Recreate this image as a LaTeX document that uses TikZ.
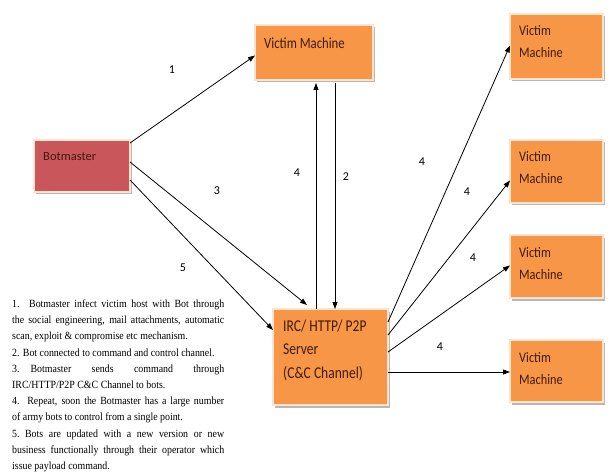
\documentclass[tikz,border=0pt]{standalone}
\usepackage{fontspec}
\setmainfont{Liberation Serif}
\newfontfamily\notefont[FakeStretch=0.9]{Liberation Serif}
\newfontfamily\calfont{Carlito}
\newfontfamily\calnarrow[FakeStretch=0.82]{Carlito}
\newfontfamily\calmid[FakeStretch=0.85]{Carlito}
\usetikzlibrary{arrows.meta,calc,shadows}
\definecolor{boxorange}{HTML}{F79646}
\definecolor{boxred}{HTML}{C9565A}
\definecolor{boxedge}{HTML}{FCE4D0}
\definecolor{boxtext}{HTML}{3F1B0A}
\tikzset{
  mbox/.style={rectangle, draw=boxedge, line width=1.2pt, fill=boxorange, anchor=north west,
    inner sep=0pt, outer sep=0pt,
    drop shadow={shadow xshift=1.5pt, shadow yshift=-2.5pt, fill=black!35, opacity=0.8}},
  rbox/.style={mbox, fill=boxred},
  lbl/.style={text=boxtext, anchor=base west, inner sep=0pt, align=left},
  arr/.style={-{Triangle[length=7pt,width=5pt]}, line width=0.8pt, black},
  num/.style={font=\calfont\fontsize{12}{14}\selectfont, inner sep=0pt}
}
\begin{document}
\begin{tikzpicture}[x=1pt,y=-1pt]
\useasboundingbox[fill=white] (0,0) rectangle (610,473);
% boxes
\node[mbox, minimum width=118pt, minimum height=55pt] (vt) at (255,25) {};
\node[rbox, minimum width=96pt, minimum height=52pt] (bm) at (34,140) {};
\node[mbox, minimum width=115pt, minimum height=96pt] (srv) at (273,309) {};
\node[mbox, minimum width=93pt, minimum height=65pt] (v1) at (510,14) {};
\node[mbox, minimum width=93pt, minimum height=63pt] (v2) at (510,140) {};
\node[mbox, minimum width=93pt, minimum height=63pt] (v3) at (510,235) {};
\node[mbox, minimum width=93pt, minimum height=62pt] (v4) at (510,340) {};
% box labels (base anchor = baseline of the last line)
\node[lbl, font=\calnarrow\fontsize{15.5}{20}\selectfont] (tvt) at ($(vt.north west)+(9,23.3)$) {Victim Machine};
\node[lbl, font=\calfont\fontsize{12.5}{15}\selectfont] (tbm) at ($(bm.north west)+(9,20.7)$) {Botmaster};
\node[lbl, font=\calnarrow\fontsize{16.5}{23.5}\selectfont] (tsrv) at ($(srv.north west)+(10,69)$) {IRC/ HTTP/ P2P\\Server\\(C\&C Channel)};
\node[lbl, font=\calmid\fontsize{14.5}{22}\selectfont] (tv1) at ($(v1.north west)+(9,44)$) {Victim\\Machine};
\node[lbl, font=\calmid\fontsize{14.5}{22}\selectfont] (tv2) at ($(v2.north west)+(9,44)$) {Victim\\Machine};
\node[lbl, font=\calmid\fontsize{14.5}{22}\selectfont] (tv3) at ($(v3.north west)+(9,44)$) {Victim\\Machine};
\node[lbl, font=\calmid\fontsize{14.5}{22}\selectfont] (tv4) at ($(v4.north west)+(9,44)$) {Victim\\Machine};
% connectors
\draw[arr] ($(bm.north east)+(0,3)$) -- ($(vt.west)+(0,3)$);
\draw[arr] ($(bm.east)+(0,-4)$) -- ($(srv.north west)+(34,-4)$);
\draw[arr] ($(bm.east)+(0,14)$) -- ($(srv.north west)+(0,21)$);
\draw[arr] ($(srv.north)+(-14.5,0)$) -- ($(vt.south)+(2,3)$);
\draw[arr] ($(vt.south)+(21,3)$) -- ($(srv.north)+(4.5,0)$);
\draw[arr] ($(srv.north east)+(0,13)$) -- ($(v1.west)+(0,-1)$);
\draw[arr] ($(srv.north east)+(0,26)$) -- ($(v2.west)+(0,9)$);
\draw[arr] ($(srv.north east)+(0,43)$) -- ($(v3.west)+(0,-1)$);
\draw[arr] ($(srv.north east)+(0,63)$) -- ($(v4.west)+(0,1)$);
% numbers
\node[num] (n1) at (172,70) {1};
\node[num] (n3) at (217,191) {3};
\node[num] (n5) at (183,268) {5};
\node[num] (n4a) at (297,173) {4};
\node[num] (n2) at (346,177) {2};
\node[num] (n4b) at (422,162) {4};
\node[num] (n4c) at (467,192) {4};
\node[num] (n4d) at (473,258) {4};
\node[num] (n4e) at (440,347) {4};
% explanatory text
\node[anchor=north west, inner sep=0pt, text width=212pt, font=\notefont\fontsize{11}{16.2}\selectfont, align=justify] (notes) at (12,299.5) {%
1. Botmaster infect victim host with Bot through\linebreak
the social engineering, mail attachments, automatic\linebreak
scan, exploit \& compromise etc mechanism.\par
2. Bot connected to command and control channel.\par
3.\quad Botmaster sends command through\linebreak
IRC/HTTP/P2P C\&C Channel to bots.\par
4. Repeat, soon the Botmaster has a large number\linebreak
of army bots to control from a single point.\par
5.\enspace Bots are updated with a new version or new\linebreak
business functionally through their operator which\linebreak
issue payload command.};
\end{tikzpicture}
\end{document}
